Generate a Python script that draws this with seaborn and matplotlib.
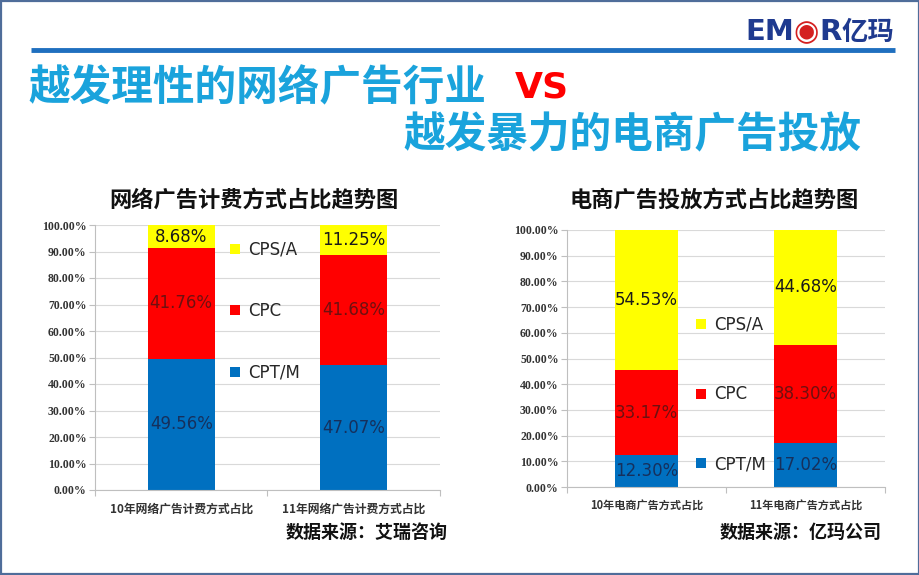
import numpy as np
import pandas as pd
import seaborn as sns
import matplotlib.pyplot as plt
from matplotlib.patches import Rectangle, Patch

sns.set_theme(style="white")
plt.rcParams['font.family'] = ['Noto Sans CJK SC', 'DejaVu Sans']

# data
series = ["CPT/M", "CPC", "CPS/A"]
seg_colors = {"CPT/M": "#0070C0", "CPC": "#FF0000", "CPS/A": "#FFFF00"}
txt_colors = {"CPT/M": "#16305C", "CPC": "#6E1010", "CPS/A": "#1A1A1A"}

net_cats = ["10年网络广告计费方式占比", "11年网络广告计费方式占比"]
net_cpt = [49.56, 47.07]
net_cpc = [41.76, 41.68]
net_cps = [8.68, 11.25]

ec_cats = ["10年电商广告方式占比", "11年电商广告方式占比"]
ec_cpt = [12.30, 17.02]
ec_cpc = [33.17, 38.30]
ec_cps = [54.53, 44.68]

W, H = 920, 575
fig = plt.figure(figsize=(W / 100, H / 100), dpi=100)

# background layer in pixel coords
bg = fig.add_axes([0, 0, 1, 1], zorder=0)
bg.set_xlim(0, W)
bg.set_ylim(H, 0)
bg.axis("off")


def box(x0, y0, x1, y1):
    return [x0 / W, 1 - y1 / H, (x1 - x0) / W, (y1 - y0) / H]


def stacked(ax, cats, cpt, cpc, cps, width, leg_xy, spacing, tick_fs):
    df = pd.DataFrame({"cat": cats, "CPT/M": cpt, "CPC": cpc, "CPS/A": cps})
    cum = df.copy()
    cum[series] = df[series].cumsum(axis=1)
    for s in reversed(series):
        sns.barplot(data=cum, x="cat", y=s, order=cats, color=seg_colors[s],
                    saturation=1, width=width, ax=ax, linewidth=0, zorder=2)
    # value labels centred in each segment
    for i in range(len(cats)):
        bottom = 0
        for s in series:
            v = df.loc[i, s]
            ax.text(i, bottom + v / 2, f"{v:.2f}%", ha="center", va="center",
                    fontsize=12, family="DejaVu Sans", color=txt_colors[s], zorder=3)
            bottom += v
    ax.set_xlim(-0.5, len(cats) - 0.5)
    ax.set_ylim(0, 100)
    ax.set_yticks(np.arange(0, 101, 10))
    ax.set_yticklabels([f"{t:.2f}%" for t in range(0, 101, 10)],
                       family="Liberation Serif", weight="bold",
                       fontsize=8.5, color="#333333")
    ax.set_xticks(range(len(cats)))
    ax.set_xticklabels(cats, fontsize=tick_fs, color="#333333", weight="bold")
    ax.set_xticks([-0.5, 0.5, len(cats) - 0.5], minor=True)
    ax.tick_params(axis="x", which="major", length=0, pad=9)
    ax.tick_params(axis="x", which="minor", length=4, color="#BFBFBF",
                   width=0.8, direction="out", bottom=True)
    ax.tick_params(axis="y", length=4, color="#BFBFBF", width=0.8,
                   direction="out", left=True, pad=2)
    ax.set_xlabel("")
    ax.set_ylabel("")
    ax.yaxis.grid(True, color="#D9D9D9", lw=0.8)
    ax.set_axisbelow(True)
    sns.despine(ax=ax)
    for sp in ("left", "bottom"):
        ax.spines[sp].set_color("#BFBFBF")
        ax.spines[sp].set_linewidth(0.8)
    handles = [Patch(facecolor=seg_colors[s], edgecolor="none") for s in reversed(series)]
    ax.legend(handles, list(reversed(series)), loc="center left",
              bbox_to_anchor=leg_xy, frameon=False,
              prop={"size": 12, "family": "DejaVu Sans"},
              handlelength=0.6, handleheight=0.55, handletextpad=0.5,
              labelspacing=spacing, borderpad=0, borderaxespad=0)


ax1 = fig.add_axes(box(95, 225, 440, 490), zorder=1)
stacked(ax1, net_cats, net_cpt, net_cpc, net_cps, 0.39, (0.39, 0.675), 2.6, 8.5)

ax2 = fig.add_axes(box(567, 230, 885, 487), zorder=1)
stacked(ax2, ec_cats, ec_cpt, ec_cpc, ec_cps, 0.40, (0.405, 0.36), 3.1, 8)

# frame, rule and headings
bg.add_patch(Rectangle((1, 1), W - 2, H - 2, fill=False, ec="#4F6D9A", lw=1.6))
bg.plot([31, 895], [50, 50], color="#1F6FBF", lw=3.5, solid_capstyle="butt")

cyan = "#1AA3DC"
bg.text(28, 88, "越发理性的网络广告行业", fontsize=30, weight="bold",
        color=cyan, ha="left", va="center")
bg.text(515, 88, "VS", fontsize=26, weight="bold", color="#FF0000",
        ha="left", va="center", family="DejaVu Sans")
bg.text(403, 135, "越发暴力的电商广告投放", fontsize=30, weight="bold",
        color=cyan, ha="left", va="center")

# logo
t1 = bg.text(745, 40, "EM", fontsize=21, weight="bold", color="#1F3A8F",
             family="DejaVu Sans", ha="left", va="baseline")
t2 = bg.annotate("◉", xy=(1, 0), xycoords=t1, fontsize=21, color="#D42020",
                 family="DejaVu Sans", va="bottom", ha="left")
t3 = bg.annotate("R", xy=(1, 0), xycoords=t2, fontsize=21, weight="bold",
                 color="#1F3A8F", family="DejaVu Sans", va="bottom", ha="left")
bg.annotate("亿玛", xy=(1, 0), xycoords=t3, fontsize=19, weight="bold",
            color="#1F3A8F", va="bottom", ha="left")

bg.text(254, 200, "网络广告计费方式占比趋势图", fontsize=16, weight="bold",
        color="#111111", ha="center", va="center")
bg.text(714, 200, "电商广告投放方式占比趋势图", fontsize=16, weight="bold",
        color="#111111", ha="center", va="center")

bg.text(448, 532, "数据来源：艾瑞咨询", fontsize=13, weight="bold",
        color="#111111", ha="right", va="center")
bg.text(882, 532, "数据来源：亿玛公司", fontsize=13, weight="bold",
        color="#111111", ha="right", va="center")

fig.savefig("out.png", dpi=100)
